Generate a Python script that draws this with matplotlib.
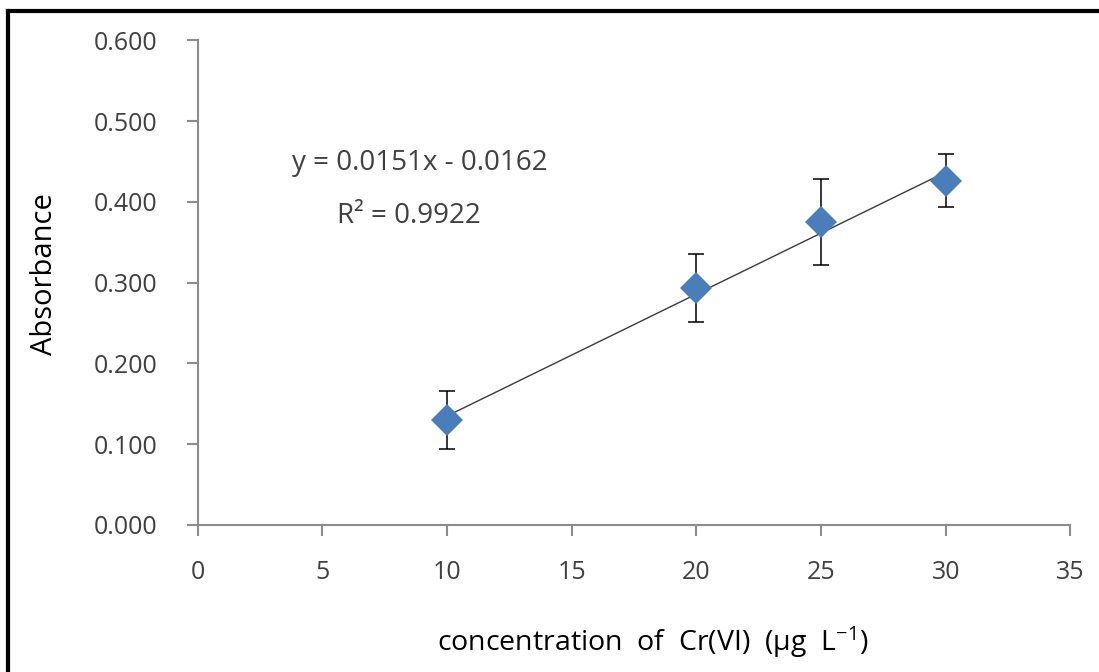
import numpy as np
import matplotlib
matplotlib.use("Agg")
import matplotlib.pyplot as plt
from matplotlib.lines import Line2D

plt.rcParams['font.family'] = ['Open Sans', 'DejaVu Sans']
plt.rcParams['mathtext.default'] = 'regular'

# calibration data for Cr(VI)
conc = [10, 20, 25, 30]
absorbance = [0.130, 0.293, 0.375, 0.426]
abs_err = [0.036, 0.042, 0.053, 0.033]

# linear fit reported on the chart
slope = 0.0151
intercept = -0.0162
r_squared = 0.9922

x_ticks = [0, 5, 10, 15, 20, 25, 30, 35]
y_ticks = [0.0, 0.1, 0.2, 0.3, 0.4, 0.5, 0.6]

fig = plt.figure(figsize=(10.99, 6.72), dpi=100)
ax = fig.add_axes([0.180, 0.219, 0.794, 0.721])

# trendline over the measured range
fit_x = np.array([min(conc), max(conc)])
ax.plot(fit_x, slope * fit_x + intercept, color='#3a3a3a', lw=1.0, zorder=2)

ax.errorbar(conc, absorbance, yerr=abs_err, fmt='none', ecolor='black',
            elinewidth=1.1, capsize=6, capthick=1.1, zorder=3)
ax.plot(conc, absorbance, 'D', color='#4a7ebb', markersize=16,
        markeredgewidth=0, zorder=4)

ax.set_xlim(0, 35)
ax.set_ylim(0, 0.6)
ax.set_xticks(x_ticks)
ax.set_yticks(y_ticks)
ax.set_yticklabels([f'{v:.3f}' for v in y_ticks])

for side in ('top', 'right'):
    ax.spines[side].set_visible(False)
for side in ('left', 'bottom'):
    ax.spines[side].set_color('#8c8c8c')
    ax.spines[side].set_linewidth(1.5)
ax.tick_params(axis='both', colors='#8c8c8c', width=1.5, length=8,
               labelsize=18, labelcolor='#404040')
ax.tick_params(axis='y', pad=21)
ax.tick_params(axis='x', pad=17)

ax.set_xlabel('concentration  of  Cr(VI)  (µg  L$^{-1}$)', fontsize=20.5,
              color='black', labelpad=29)
ax.xaxis.label.set_x(0.521)
ax.set_ylabel('Absorbance', fontsize=21, color='black', labelpad=25)
ax.yaxis.label.set_y(0.517)

sign = '-' if intercept < 0 else '+'
ax.text(8.91, 0.448, f'y = {slope:.4f}x {sign} {abs(intercept):.4f}',
        ha='center', va='center', fontsize=20, color='#404040')
ax.text(8.47, 0.383, f'R² = {r_squared:.4f}', ha='center', va='center',
        fontsize=20, color='#404040')

# outer frame around the figure
fig.add_artist(Line2D([8 / 1099, 1.0], [1 - 11 / 672, 1 - 11 / 672],
                      transform=fig.transFigure, color='black', lw=3))
fig.add_artist(Line2D([8 / 1099, 8 / 1099], [0.0, 1 - 11 / 672],
                      transform=fig.transFigure, color='black', lw=3))

fig.savefig('out.png', dpi=100)
